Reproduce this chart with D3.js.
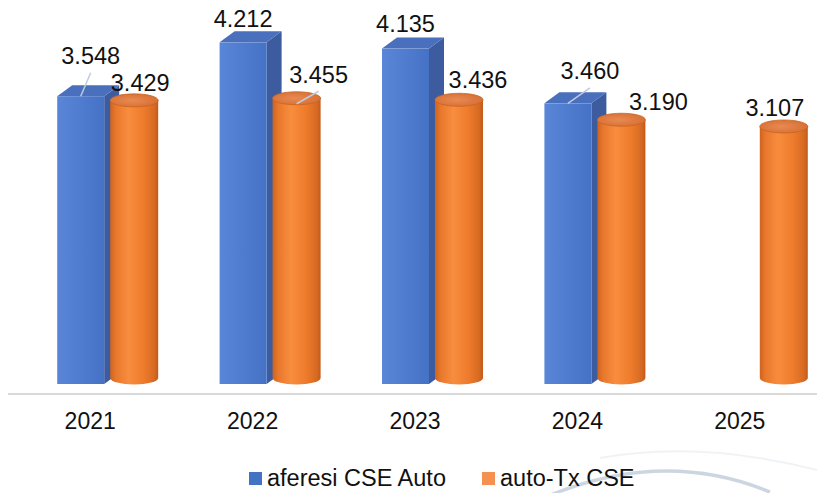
<!DOCTYPE html>
<html>
<head>
<meta charset="utf-8">
<script src="https://cdn.jsdelivr.net/npm/d3@7"></script>
<style>
  html, body { margin: 0; padding: 0; background: #ffffff; }
  svg { display: block; font-family: "Liberation Sans", Arial, sans-serif; }
</style>
</head>
<body>
<svg id="chart" width="817" height="493"></svg>
<script>
// Yearly volumes (thousands separator shown as ".")
const years = ["2021", "2022", "2023", "2024", "2025"];
const aferesi = [3548, 4212, 4135, 3460, null];
const autoTx = [3429, 3455, 3436, 3190, 3107];
const seriesNames = ["aferesi CSE Auto", "auto-Tx CSE"];

// Manual label nudges [dx, dy] relative to the default spot above each column
const aferesiNudge = [[10, -18], [0, -1], [0, -3], [22, -10], [0, 0]];
const autoTxNudge = [[6, -1], [22, -7], [19, -3], [37, -1], [-9, -2]];

const fmt = v => d3.format(",")(v).replace(/,/g, ".");

const svg = d3.select("#chart");
const floorY = 384;

const x = d3.scaleBand().domain(years).range([9, 821]);
const y = d3.scaleLinear().domain([0, 4500]).range([floorY, 19]);

const depthX = 15, depthY = -11;
const boxW = 47, cylW = 48, cylRy = 6.5;

// gradients
const defs = svg.append("defs");
const gBlue = defs.append("linearGradient").attr("id", "blueFront").attr("x1", 0).attr("x2", 1);
gBlue.append("stop").attr("offset", 0).attr("stop-color", "#5a86d8");
gBlue.append("stop").attr("offset", 1).attr("stop-color", "#4672c6");
const gOr = defs.append("linearGradient").attr("id", "orBody").attr("x1", 0).attr("x2", 1);
[[0, "#cf641f"], [0.12, "#e8782c"], [0.38, "#f88d3e"], [0.7, "#ee7b2c"], [0.92, "#d66a22"], [1, "#c25a1a"]]
  .forEach(([o, c]) => gOr.append("stop").attr("offset", o).attr("stop-color", c));
const gTop = defs.append("radialGradient").attr("id", "orTop").attr("cx", 0.45).attr("cy", 0.5).attr("r", 0.6);
gTop.append("stop").attr("offset", 0).attr("stop-color", "#e88a52");
gTop.append("stop").attr("offset", 1).attr("stop-color", "#d66e33");

// decorative swoosh in the lower right
const sw = svg.append("g").attr("fill", "none");
sw.append("path").attr("d", "M548,496 Q665,448 770,492")
  .attr("stroke", "#c3cfdc").attr("stroke-width", 3.5).attr("opacity", 0.85);
sw.append("path").attr("d", "M600,458 Q700,440 817,470")
  .attr("stroke", "#e6ebf0").attr("stroke-width", 2).attr("opacity", 0.6);

// floor line
svg.append("line")
  .attr("x1", 8).attr("x2", 817).attr("y1", 394).attr("y2", 394)
  .attr("stroke", "#d9d9d9").attr("stroke-width", 2);

const center = d => x(d) + x.bandwidth() / 2;

// blue boxes
const boxes = svg.append("g");
years.forEach((yr, i) => {
  const v = aferesi[i];
  if (v == null) return;
  const c = center(yr);
  const x0 = c - 33, x1 = x0 + boxW, yt = y(v);
  const g = boxes.append("g");
  g.append("polygon")
    .attr("points", [[x1, yt], [x1 + depthX, yt + depthY], [x1 + depthX, floorY + depthY], [x1, floorY]].join(" "))
    .attr("fill", "#3c5c9f");
  g.append("polygon")
    .attr("points", [[x0, yt], [x0 + depthX, yt + depthY], [x1 + depthX, yt + depthY], [x1, yt]].join(" "))
    .attr("fill", "#4a6fbd");
  g.append("rect")
    .attr("x", x0).attr("y", yt).attr("width", boxW).attr("height", floorY - yt)
    .attr("fill", "url(#blueFront)");
});

// orange cylinders
const cyls = svg.append("g");
years.forEach((yr, i) => {
  const v = autoTx[i];
  if (v == null) return;
  const cc = center(yr) + 44;
  const l = cc - cylW / 2, r = cc + cylW / 2;
  const topCy = y(v) - 5.5, botCy = floorY - 6;
  const rx = cylW / 2;
  cyls.append("path")
    .attr("d", `M${l},${topCy} L${l},${botCy} A${rx},${cylRy} 0 0 0 ${r},${botCy} L${r},${topCy} Z`)
    .attr("fill", "url(#orBody)");
  cyls.append("ellipse")
    .attr("cx", cc).attr("cy", topCy).attr("rx", rx).attr("ry", cylRy)
    .attr("fill", "url(#orTop)").attr("stroke", "#c9631f").attr("stroke-width", 0.8);
});

// data labels with leader lines where they sit far from the column
const labels = svg.append("g").attr("font-size", 23.5).attr("fill", "#111").attr("text-anchor", "middle");
function addLabel(v, bx, nudge) {
  const by = y(v);
  const lx = bx + nudge[0], ly = by - 14 + nudge[1];
  if (by - ly > 18) {
    labels.append("line")
      .attr("x1", lx).attr("y1", ly + 8.5).attr("x2", bx).attr("y2", by)
      .attr("stroke", "#bfcbdc").attr("stroke-width", 1.5);
  }
  labels.append("text").attr("x", lx).attr("y", ly).text(fmt(v));
}
years.forEach((yr, i) => {
  if (aferesi[i] != null) addLabel(aferesi[i], center(yr) - 33 + boxW / 2, aferesiNudge[i]);
  if (autoTx[i] != null) addLabel(autoTx[i], center(yr) + 44, autoTxNudge[i]);
});

// category axis
const axis = svg.append("g").attr("transform", "translate(0,394)")
  .call(d3.axisBottom(x).tickSize(0).tickPadding(19));
axis.select(".domain").remove();
axis.selectAll("text").attr("font-size", 23).attr("fill", "#111")
  .attr("font-family", "'Liberation Sans', Arial, sans-serif");

// legend
const legend = svg.append("g").attr("font-size", 23.5).attr("fill", "#111");
const legendItems = [
  { name: seriesNames[0], color: "#4472c4", x: 249 },
  { name: seriesNames[1], color: "#f59150", x: 482 }
];
legendItems.forEach(it => {
  legend.append("rect").attr("x", it.x).attr("y", 472).attr("width", 13).attr("height", 13).attr("fill", it.color);
  legend.append("text").attr("x", it.x + 18).attr("y", 486).text(it.name);
});
</script>
</body>
</html>
